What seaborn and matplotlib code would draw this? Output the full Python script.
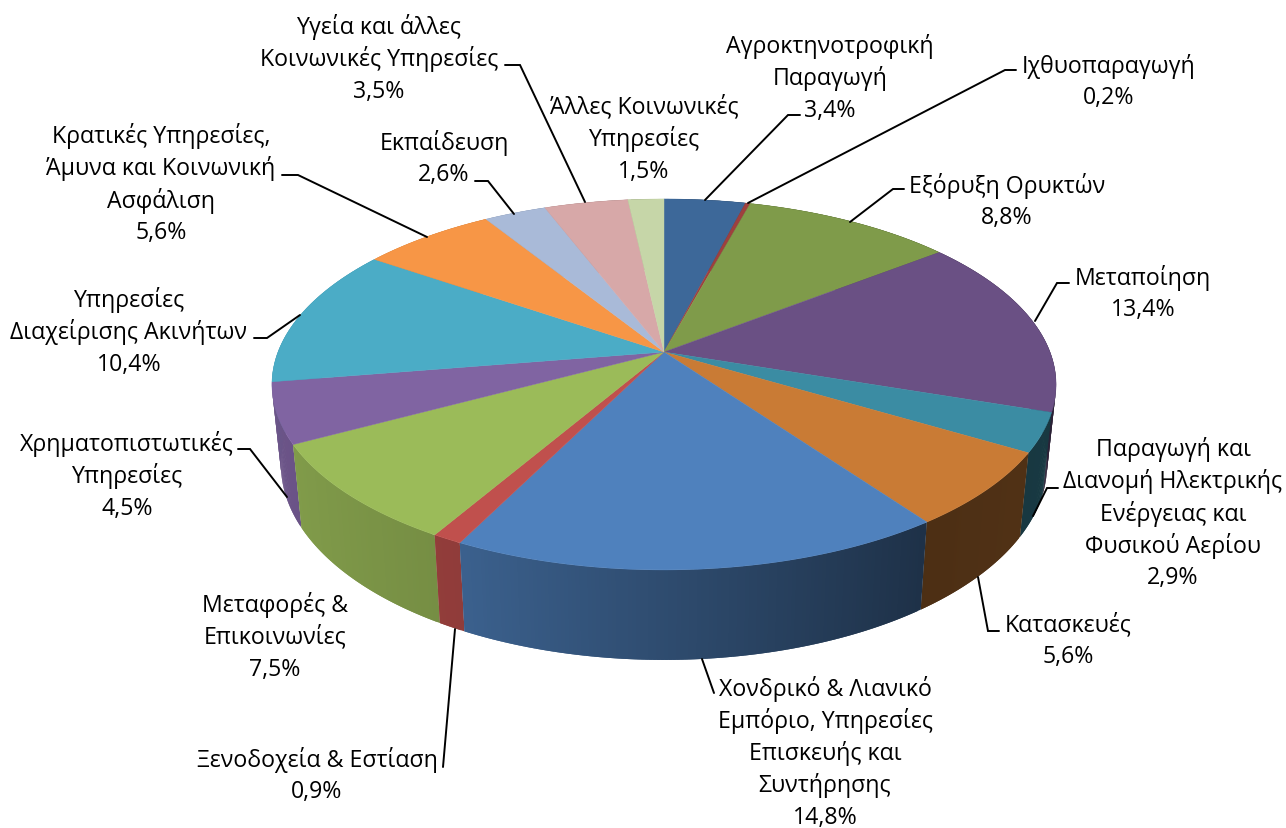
import numpy as np
import matplotlib.pyplot as plt
import seaborn as sns

# Τιμές του γραφήματος
labels = [
    "Αγροκτηνοτροφική\nΠαραγωγή\n3,4%",
    "Ιχθυοπαραγωγή\n0,2%",
    "Εξόρυξη Ορυκτών\n8,8%",
    "Μεταποίηση\n13,4%",
    "Παραγωγή και\nΔιανομή Ηλεκτρικής\nΕνέργειας και\nΦυσικού Αερίου\n2,9%",
    "Κατασκευές\n5,6%",
    "Χονδρικό & Λιανικό\nΕμπόριο, Υπηρεσίες\nΕπισκευής και\nΣυντήρησης\n14,8%",
    "Ξενοδοχεία & Εστίαση\n0,9%",
    "Μεταφορές &\nΕπικοινωνίες\n7,5%",
    "Χρηματοπιστωτικές\nΥπηρεσίες\n4,5%",
    "Υπηρεσίες\nΔιαχείρισης Ακινήτων\n10,4%",
    "Κρατικές Υπηρεσίες,\nΆμυνα και Κοινωνική\nΑσφάλιση\n5,6%",
    "Εκπαίδευση\n2,6%",
    "Υγεία και άλλες\nΚοινωνικές Υπηρεσίες\n3,5%",
    "Άλλες Κοινωνικές\nΥπηρεσίες\n1,5%",
]
values = [3.4, 0.2, 8.8, 13.4, 2.9, 5.6, 14.8, 0.9, 7.5, 4.5, 10.4, 5.6, 2.6, 3.5, 1.5]
slice_colors = ["#3d6899", "#9e403e", "#7f9b4a", "#6a5084", "#3b8ca3", "#c97b35",
                "#4f81bd", "#c0504d", "#9bbb59", "#8064a2", "#4bacc6", "#f79646",
                "#a9bad8", "#d7a8a8", "#c6d6a8"]

# κέντρο κειμένου (x, y πρώτης γραμμής) και γραμμές οδηγοί, σε pixels
label_pos = [(830, 46), (1109, 66), (1007, 186), (1143, 278), (1173, 449), (1068, 625),
             (825, 689), (317, 760), (275, 605), (127, 444), (129, 300), (161, 136),
             (444, 143), (379, 27), (644, 107)]
leaders = [
    [(705, 201), (788, 116), (800, 116)],
    [(748, 204), (1005, 71), (1016, 71)],
    [(850, 223), (893, 190), (904, 190)],
    [(1035, 322), (1057, 284), (1069, 284)],
    [(1033, 517), (1047, 489), (1058, 489)],
    [(978, 578), (988, 632), (999, 632)],
    [(702, 660), (714, 694)],
    [(455, 630), (443, 768)],
    None,
    [(287, 498), (250, 450), (238, 450)],
    [(300, 316), (267, 339), (254, 339)],
    [(427, 238), (298, 176), (282, 176)],
    [(514, 215), (488, 182), (475, 182)],
    [(585, 203), (520, 66), (505, 66)],
    None,
]

sns.set_theme(style="white")
plt.rcParams["font.family"] = ["Open Sans", "DejaVu Sans"]
palette = sns.color_palette(slice_colors)

fig = plt.figure(figsize=(12.86, 8.29), dpi=100)
ax = fig.add_axes([0, 0, 1, 1])
ax.set_xlim(0, 1286)
ax.set_ylim(829, 0)
ax.axis("off")

# προοπτική του δίσκου
cx, cy = 664, 353
a, b, c = 386, 179.8, -0.175


def top_rim(t):
    u, v = np.sin(t), -np.cos(t)
    d = 1 + c * v
    return cx + a * u / d, cy + b * v / d


def bottom_rim(t):
    u, v = np.sin(t), -np.cos(t)
    d = 1 + c * v
    w = v / d
    return cx + 0.977 * a * u / d, cy + b * w + 78.7 + 9.3 * w


def side_shade(t):
    return np.interp(np.sin(t), [-1, -0.45, 0.58, 1], [0.85, 0.75, 0.38, 0.41])


edges = np.cumsum([0] + values) / sum(values) * 2 * np.pi

# πλευρικά τμήματα, από πίσω προς τα εμπρός
order = np.argsort(-np.cos((edges[:-1] + edges[1:]) / 2))
for i in order:
    col = palette[i]
    n = max(2, int(np.degrees(edges[i + 1] - edges[i]) * 2))
    ts = np.linspace(edges[i], edges[i + 1], n + 1)
    for j in range(n):
        t0 = ts[j]
        t1 = ts[min(j + 2, n)]  # επικάλυψη για να μη φαίνονται ραφές
        tt = np.linspace(t0, t1, 4)
        xt, yt = top_rim(tt)
        xb, yb = bottom_rim(tt[::-1])
        shade = side_shade((ts[j] + ts[j + 1]) / 2)
        rgb = tuple(min(1, x * shade) for x in col)
        ax.fill(np.r_[xt, xb], np.r_[yt, yb], color=rgb, lw=0, zorder=2)

# πάνω επιφάνεια
for i, col in enumerate(palette):
    tt = np.linspace(edges[i], edges[i + 1], 80)
    xs, ys = top_rim(tt)
    ax.fill(np.r_[cx, xs], np.r_[cy, ys], color=col, lw=0.3, zorder=3)

# ετικέτες
line_gap = 32.3
for lab, (x, y), lead in zip(labels, label_pos, leaders):
    for k, line in enumerate(lab.split("\n")):
        ax.text(x, y + k * line_gap, line, ha="center", va="center",
                fontsize=16.7, color="black", zorder=5)
    if lead is not None:
        ax.plot([p[0] for p in lead], [p[1] for p in lead], color="black",
                lw=1.4, solid_joinstyle="miter", zorder=4)

plt.savefig("out.png", dpi=100)
plt.close()
